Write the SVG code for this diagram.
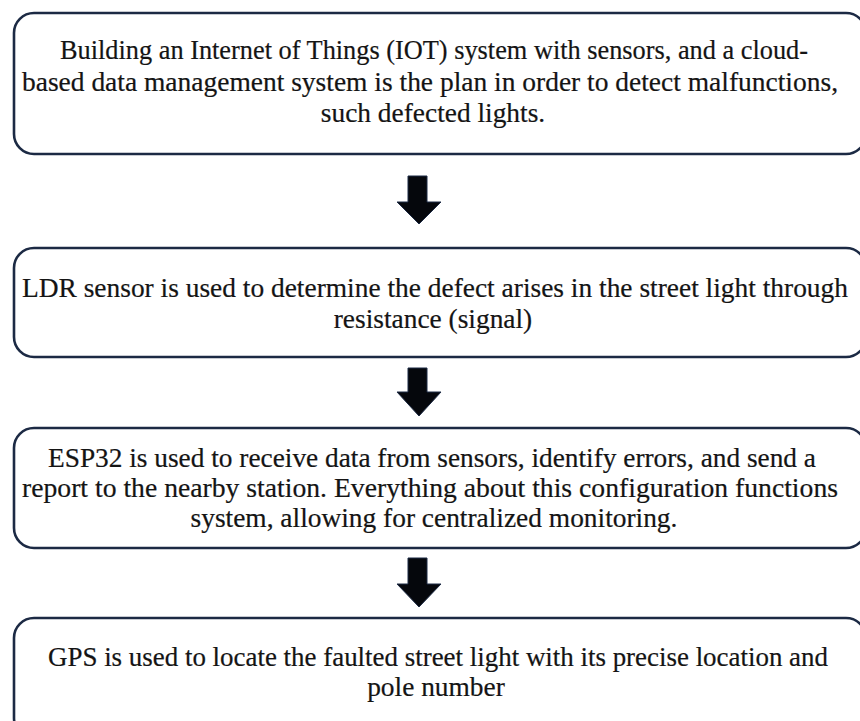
<svg xmlns="http://www.w3.org/2000/svg" width="860" height="721" viewBox="0 0 860 721">
  <style>
    .box { fill: #ffffff; stroke: #1c2a44; stroke-width: 2.6; }
    .txt { font-family: "Liberation Serif", "Times New Roman", "DejaVu Serif", serif; font-size: 27.4px; fill: #141414; stroke: #141414; stroke-width: 0.2; text-anchor: middle; }
    .arrow { fill: #05070c; stroke: #1c2a44; stroke-width: 1; }
  </style>
  <rect width="860" height="721" fill="#ffffff"/>

  <g id="step-plan">
    <rect class="box" x="14" y="13" width="852" height="141" rx="20" ry="20"/>
    <text class="txt" x="434" y="59" textLength="748" lengthAdjust="spacingAndGlyphs">Building an Internet of Things (IOT) system with sensors, and a cloud-</text>
    <text class="txt" x="430" y="91" textLength="816" lengthAdjust="spacingAndGlyphs">based data management system is the plan in order to detect malfunctions,</text>
    <text class="txt" x="433" y="122">such defected lights.</text>
  </g>

  <g id="step-ldr">
    <rect class="box" x="14" y="248" width="852" height="109" rx="20" ry="20"/>
    <text class="txt" x="435" y="297" textLength="826" lengthAdjust="spacingAndGlyphs">LDR sensor is used to determine the defect arises in the street light through</text>
    <text class="txt" x="433" y="328">resistance (signal)</text>
  </g>

  <g id="step-esp32">
    <rect class="box" x="14" y="428" width="852" height="120" rx="20" ry="20"/>
    <text class="txt" x="432" y="467" textLength="768" lengthAdjust="spacingAndGlyphs">ESP32 is used to receive data from sensors, identify errors, and send a</text>
    <text class="txt" x="430" y="497" textLength="816" lengthAdjust="spacingAndGlyphs">report to the nearby station. Everything about this configuration functions</text>
    <text class="txt" x="434" y="527">system, allowing for centralized monitoring.</text>
  </g>

  <g id="step-gps">
    <rect class="box" x="14" y="618" width="852" height="120" rx="20" ry="20"/>
    <text class="txt" x="438" y="666" textLength="780" lengthAdjust="spacingAndGlyphs">GPS is used to locate the faulted street light with its precise location and</text>
    <text class="txt" x="436" y="696">pole number</text>
  </g>

  <g id="connectors">
    <polygon class="arrow" points="408,176 427,176 427,202 441,202 419,224 397,202 408,202"/>
    <polygon class="arrow" points="408,368 427,368 427,392 441,392 419,416 397,392 408,392"/>
    <polygon class="arrow" points="408,558 427,558 427,584 441,584 419,607 397,584 408,584"/>
  </g>
</svg>
